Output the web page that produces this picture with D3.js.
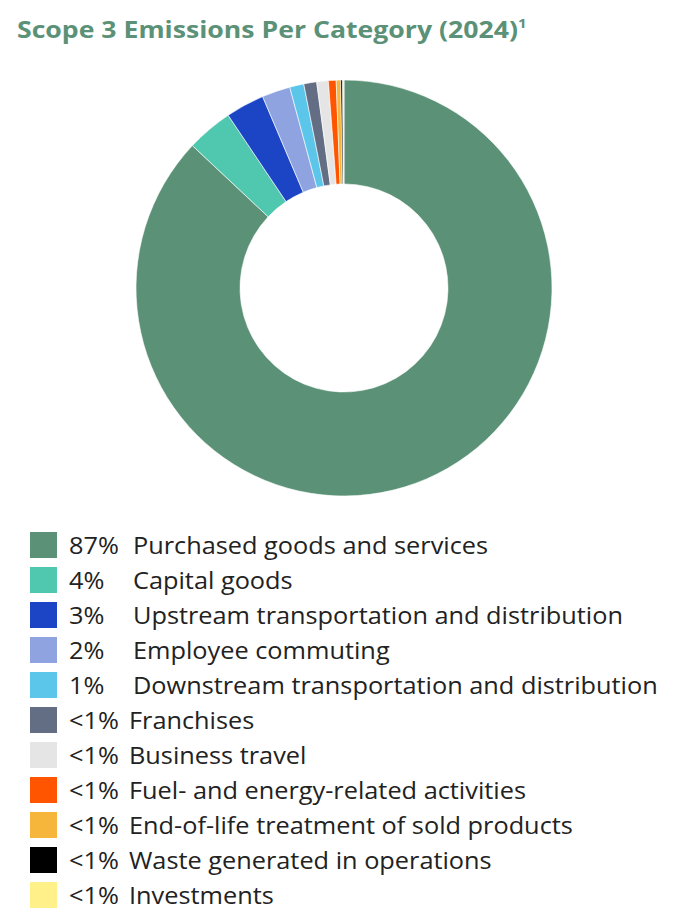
<!DOCTYPE html><html><head><meta charset="utf-8"><script src="https://cdn.jsdelivr.net/npm/d3@7"></script>
<style>body{margin:0;background:#fff}</style></head><body><svg id="c" width="680" height="920"></svg>
<script>
const categories=["Purchased goods and services","Capital goods","Upstream transportation and distribution","Employee commuting","Downstream transportation and distribution","Franchises","Business travel","Fuel- and energy-related activities","End-of-life treatment of sold products","Waste generated in operations","Investments"];
const values=[87,3.6,3.0,2.2,1.1,1.0,0.9,0.6,0.35,0.15,0.1];
const pctLabels=["87%","4%","3%","2%","1%","<1%","<1%","<1%","<1%","<1%","<1%"];
const colors=["#5b9177","#50c8b0","#1b45c4","#8fa3e0","#5cc6ea","#636e85","#e5e5e5","#ff5500","#f6b63c","#000000","#fff08a"];
const svg=d3.select("#c");
const title=svg.append("text").attr("x",17).attr("y",38).attr("font-family","'Open Sans', sans-serif").attr("font-weight",700).attr("font-size",23).attr("fill","#5b9177");
title.append("tspan").text("Scope 3 Emissions Per Category (2024)");
title.append("tspan").attr("font-size",13).attr("dy",-10).text("1");
const tw=title.node().getComputedTextLength();
if(tw>0) title.attr("transform",`translate(17,0) scale(${510/tw},1) translate(-17,0)`);
const pie=d3.pie().sort(null).value(d=>d)(values);
const arc=d3.arc().innerRadius(104).outerRadius(208);
const g=svg.append("g").attr("transform","translate(344,288)");
g.selectAll("path").data(pie).join("path").attr("d",arc).attr("fill",(d,i)=>colors[i]).attr("stroke","#fff").attr("stroke-width",0.6);
const lg=svg.append("g").attr("font-family","'Open Sans', sans-serif").attr("font-size",24).attr("fill","#222");
categories.forEach((c,i)=>{const y=545+i*35;
lg.append("rect").attr("x",30).attr("y",y-13).attr("width",27).attr("height",26).attr("fill",colors[i]);
lg.append("text").attr("x",69).attr("y",y+9).text(pctLabels[i]);
lg.append("text").attr("x",pctLabels[i].startsWith("<")?129:133).attr("y",y+9).text(c);});
// scale legend text width to match reference (longest line 133→658)
const longest=lg.selectAll("text").filter(function(){return this.textContent==="Downstream transportation and distribution";}).node();
const lw=longest.getComputedTextLength();
if(lw>0){const k=525/lw; lg.selectAll("text").each(function(){const x=+this.getAttribute("x");d3.select(this).attr("transform",`translate(${x},0) scale(${k},1) translate(${-x},0)`);});}
</script></body></html>
